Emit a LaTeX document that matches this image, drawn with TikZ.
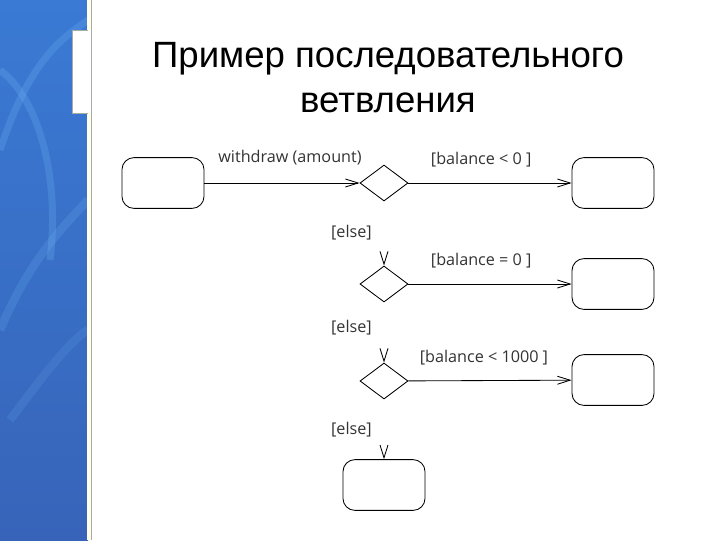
\documentclass[tikz,border=0pt]{standalone}
\usepackage{fontspec}
\setmainfont{Liberation Sans}
\newfontfamily\diagfont{Open Sans}
\usetikzlibrary{shapes.geometric, arrows.meta, positioning, calc}
\definecolor{bandblue}{RGB}{58, 122, 212}
\definecolor{banddark}{RGB}{55, 100, 185}
\definecolor{streak}{RGB}{110, 180, 245}
\definecolor{edgegrey}{RGB}{170, 170, 165}

\tikzset{
  state/.style={draw, rounded corners=0.3cm, minimum width=2.05cm, minimum height=1.27cm, inner sep=0pt, line width=0.6pt},
  choice/.style={draw, diamond, minimum width=1.2cm, minimum height=0.9cm, inner sep=0pt, line width=0.6pt},
  flow/.style={line width=0.6pt, -{Straight Barb[length=3.2mm, width=2mm, line width=0.6pt]}},
  hidden flow/.style={draw=white, shorten <=1pt, -{Straight Barb[black, length=3.2mm, width=2mm, line width=0.6pt]}},
  guard/.style={font=\diagfont\fontsize{11.5pt}{13pt}\selectfont, text=black!80, inner sep=0pt}
}

\begin{document}
\begin{tikzpicture}[x=0.025cm, y=-0.025cm]
  % slide background
  \useasboundingbox (0,0) rectangle (720,540);
  \fill[white] (0,0) rectangle (720,540);
  \shade[top color=bandblue, bottom color=banddark] (0,0) rectangle (88,540);
  \draw[streak, opacity=0.25, line width=5pt] (0,150) .. controls (30,60) and (60,40) .. (88,20);
  \draw[streak, opacity=0.25, line width=5pt] (0,70) .. controls (40,100) and (60,180) .. (50,260);
  \draw[streak, opacity=0.2, line width=6pt] (0,330) .. controls (30,260) and (60,230) .. (88,200);
  \draw[streak, opacity=0.15, line width=6pt] (10,420) .. controls (40,380) and (70,340) .. (88,330);
  % pale edge
  \fill[white!92!yellow] (87,0) rectangle (91,540);
  \draw[edgegrey, line width=0.5pt] (91,0) -- (91,540);
  % white notch
  \fill[white] (72,30) rectangle (91,113);
  \draw[edgegrey, line width=0.6pt] (88,30) -- (72,30) -- (72,113) -- (88,113);

  % title
  \node[font=\fontsize{26pt}{32pt}\selectfont, align=center] (title) at (388,78) {Пример последовательного\\ветвления};

  % states
  \node[state] (idle) at (163,183) {};
  \node[state] (neg) at (613,183) {};
  \node[state] (zero) at (613,284) {};
  \node[state] (low) at (613,380) {};
  \node[state] (rest) at (384,485) {};

  % decisions
  \node[choice] (c1) at (384,183) {};
  \node[choice] (c2) at (384,284) {};
  \node[choice] (c3) at (384,381) {};

  % transitions
  \draw[flow] (idle) -- node[guard, above=0.45cm, xshift=0.2cm] {withdraw (amount)} (c1);
  \draw[flow] (c1) -- node[guard, above=0.38cm, xshift=-0.22cm] {[balance < 0 ]} (neg);
  \draw[flow] (c2) -- node[guard, above=0.38cm, xshift=-0.22cm] {[balance = 0 ]} (zero);
  \draw[flow] (c3) -- node[guard, above=0.38cm, xshift=-0.15cm] {[balance < 1000 ]} (low);

  % else branches
  \draw[hidden flow] (c1) -- node[guard, left=0.3cm, yshift=0.03cm] {[else]} (c2);
  \draw[hidden flow] (c2) -- node[guard, left=0.3cm, yshift=0.12cm] {[else]} (c3);
  \draw[hidden flow] (c3) -- node[guard, left=0.3cm] {[else]} (rest);
\end{tikzpicture}
\end{document}
